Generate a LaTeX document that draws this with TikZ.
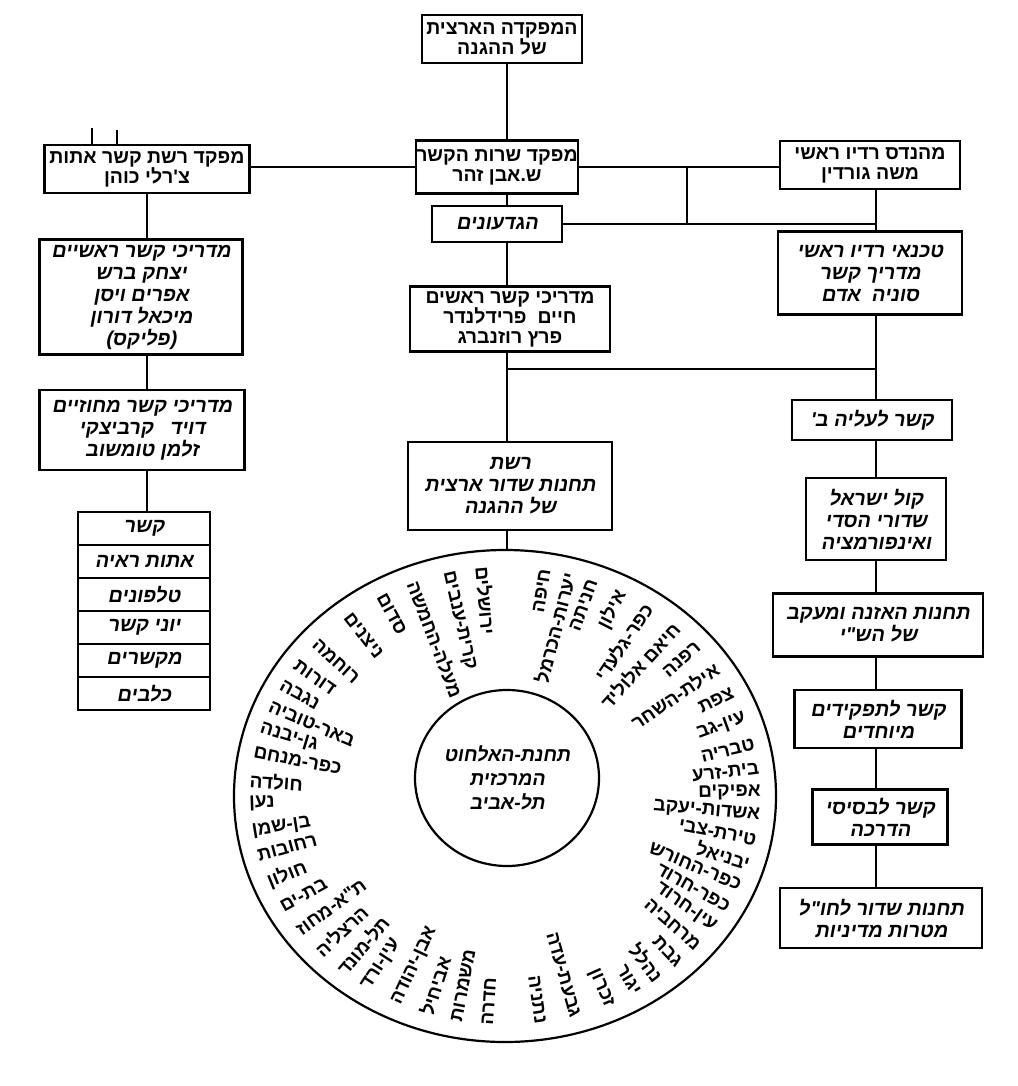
\documentclass[tikz,border=0pt]{standalone}
\usepackage{fontspec}
\usetikzlibrary{shapes.geometric}
\TeXXeTstate=1
\newfontfamily\heb[Script=Hebrew]{Liberation Sans}
\newfontfamily\hebS[Script=Hebrew,FakeSlant=0.18]{Liberation Sans}
\newcommand\R[1]{\beginR #1\endR}
\begin{document}
\begin{tikzpicture}[x=1pt,y=1pt,
  ln/.style={line width=2pt},
  bx/.style={draw,line width=2.2pt,align=center,inner sep=0pt},
  bold/.style={font=\fontsize{19.5}{20}\heb\bfseries},
  ital/.style={font=\fontsize{20}{22}\hebS\bfseries},
  cw/.style={inner sep=0pt,font=\fontsize{19}{19}\heb\bfseries}]
\fill[white] (0,0) rectangle (1017,-1086);
\useasboundingbox (0,0) rectangle (1017,-1086);
\coordinate (cx) at (507,0);
\coordinate (rcx) at (876,0);
\coordinate (jx) at (687,0);
\coordinate (lcx) at (147,0);
\coordinate (hy) at (0,-369);
% center column
\node[bx,bold,minimum width=160,minimum height=48] (top) at (502,-39) {\R{המפקדה הארצית}\\\R{של ההגנה}};
\node[bx,bold,minimum width=162,minimum height=53] (c1) at (497,-167) {\R{מפקד שרות הקשר}\\\R{ש.אבן זהר}};
\node[bx,ital,minimum width=130,minimum height=36] (gid) at (497,-224) {\R{הגדעונים}};
\node[bx,bold,minimum width=200,minimum height=65] (c2) at (510,-319) {\R{מדריכי קשר ראשים}\\\R{חיים\ \ פרידלנדר}\\\R{פרץ רוזנברג}};
\node[bx,ital,minimum width=204,minimum height=88] (c3) at (510,-486) {\R{רשת}\\\R{תחנות שדור ארצית}\\\R{של ההגנה}};
% left column
\node[bx,bold,minimum width=205,minimum height=48] (l1) at (147,-169) {\R{מפקד רשת קשר אתות}\\\R{צ'רלי כוהן}};
\node[bx,ital,minimum width=203,minimum height=115] (l2) at (141,-297) {\R{מדריכי קשר ראשיים}\\\R{יצחק ברש}\\\R{אפרים ויסן}\\\R{מיכאל דורון}\\\R{(פליקס)}};
\node[bx,ital,minimum width=205,minimum height=80] (l3) at (142,-430) {\R{מדריכי קשר מחוזיים}\\\R{דויד\ \ \ קרביצקי}\\\R{זלמן טומשוב}};
\foreach \i/\t in {1/קשר,2/אתות ראיה,3/טלפונים,4/יוני קשר,5/מקשרים,6/כלבים}
  \node[bx,ital,minimum width=132,minimum height=33] (li\i) at (144,{-528.5-33*(\i-1)}) {\R{\t}};
% right column
\node[bx,bold,minimum width=180,minimum height=48] (r1) at (870,-165) {\R{מהנדס רדיו ראשי}\\\R{משה גורדין}};
\node[bx,ital,minimum width=184,minimum height=83] (r2) at (870,-273) {\R{טכנאי רדיו ראשי}\\\R{מדריך קשר}\\\R{סוניה\ \ אדם}};
\node[bx,ital,minimum width=160,minimum height=40] (r3) at (872,-420) {\R{קשר לעליה ב'}};
\node[bx,ital,minimum width=140,minimum height=82] (r4) at (876,-519) {\R{קול ישראל}\\\R{שדורי הסדי}\\\R{ואינפורמציה}};
\node[bx,ital,minimum width=210,minimum height=63] (r5) at (878,-625) {\R{תחנות האזנה ומעקב}\\\R{של הש"י}};
\node[bx,ital,minimum width=167,minimum height=58] (r6) at (878,-719) {\R{קשר לתפקידים}\\\R{מיוחדים}};
\node[bx,ital,minimum width=135,minimum height=55] (r7) at (880,-817) {\R{קשר לבסיסי}\\\R{הדרכה}};
\node[bx,ital,minimum width=202,minimum height=60] (r8) at (881,-918) {\R{תחנות שדור לחו"ל}\\\R{מטרות מדיניות}};
% circle
\node[draw,ellipse,line width=2.2pt,minimum width=542,minimum height=492,inner sep=0pt] (outer) at (505,-796) {};
\node[draw,ellipse,line width=2.2pt,minimum width=184,minimum height=176,inner sep=0pt,align=center,font=\fontsize{19.5}{24}\hebS\bfseries] (inner) at (507,-778) {\R{תחנת-האלחוט}\\\R{המרכזית}\\\R{תל-אביב}};
\begin{scope}[shift={(505,-796)}]
\foreach \a/\w in {81/חיפה,75.5/יערות-הכרמל,70/חניתה,63/אילון,56/כפר-גלעדי,48/חיאם אלוליד,41/רפנה,34/אילת-השחר,27/צפת,20/עין-גב,13/טבריה,7/בית-זרע,1/אפיקים,-5/אשדות-יעקב,-11/טירת-צבי,-17/יבניאל,-23/כפר-החורש,-29/כפר-חרוד,-35/עין-חרוד,-41/מרחביה,-47/גבת,-53/נהלל,-59/יגור,-66/זכרון,-74/גבעת-עדה,-82/נתניה}
  \node[cw,anchor=east,rotate=\a] at (\a:256 and 230) {\R{\w}};
\foreach \a/\w in {95/ירושלים,103/קרית-ענבים,111/מעלה-החמשה,119/סדום,128/ניצנים,138/רוחמה,145/דורות,151/נגבה,157/באר-טוביה,163/גן-יבנה,169/כפר-מנחם,176/חולדה,182/נען,189/בן-שמן,195/רחובות,202/חולון,209/בת-ים,216/ת"א-מחוז,223/הרצליה,230/תל-מונד,237/עין-ורד,245/אבן-יהודה,252/אביחיל,259/משמרות,266/חדרה}
  \node[cw,anchor=west,rotate=\a-180] at (\a:256 and 230) {\R{\w}};
\end{scope}
% connectors
\draw[ln] (top.south -| cx) -- (c1.north -| cx);
\draw[ln] (c1.west) -- (c1.west -| l1.east);
\draw[ln] (c1.east) -- (c1.east -| r1.west);
\draw[ln] (c1.east -| jx) -- (gid.east -| jx);
\draw[ln] (gid.east) -- (gid.east -| rcx);
\draw[ln] (c1.south -| cx) -- (gid.north -| cx);
\draw[ln] (gid.south -| cx) -- (c2.north -| cx);
\draw[ln] (c2.south -| cx) -- (c3.north -| cx);
\draw[ln] (c3.south -| cx) -- (outer.north -| cx);
\draw[ln] (cx |- hy) -- (rcx |- hy);
\draw[ln] (r1.south -| rcx) -- (r2.north -| rcx);
\draw[ln] (r2.south -| rcx) -- (r3.north -| rcx);
\draw[ln] (r3.south -| rcx) -- (r4.north -| rcx);
\draw[ln] (r4.south -| rcx) -- (r5.north -| rcx);
\draw[ln] (r5.south -| rcx) -- (r6.north -| rcx);
\draw[ln] (r6.south -| rcx) -- (r7.north -| rcx);
\draw[ln] (r7.south -| rcx) -- (r8.north -| rcx);
\draw[ln] (l1.south -| lcx) -- (l2.north -| lcx);
\draw[ln] (l2.south -| lcx) -- (l3.north -| lcx);
\draw[ln] (l3.south -| lcx) -- (li1.north -| lcx);
\coordinate (t1) at (92,-128);
\coordinate (t2) at (117,-130);
\draw[line width=1.3pt] (t1) -- (t1 |- l1.north);
\draw[line width=1.3pt] (t2) -- (t2 |- l1.north);
\end{tikzpicture}
\end{document}
